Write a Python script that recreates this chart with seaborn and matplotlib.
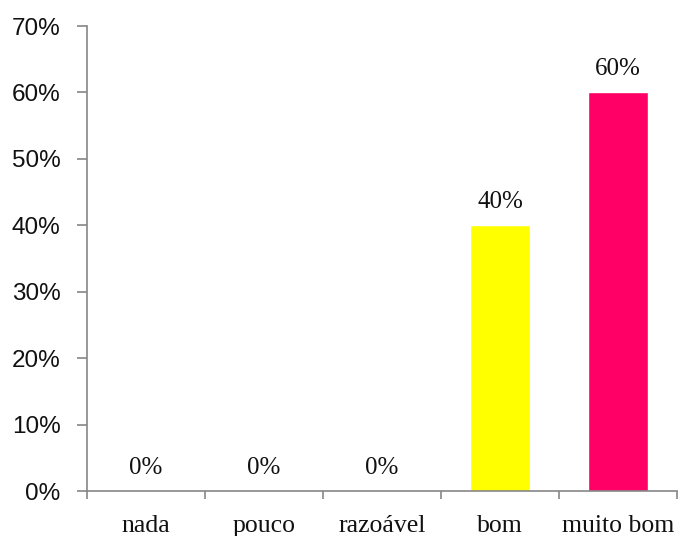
import matplotlib
matplotlib.use("Agg")
import matplotlib.pyplot as plt
from matplotlib.ticker import PercentFormatter, FixedLocator
import seaborn as sns
import pandas as pd

categories = ["nada", "pouco", "razoável", "bom", "muito bom"]
values = [0, 0, 0, 40, 60]
colors = ["#4F81BD", "#C0504D", "#9BBB59", "#FFFF00", "#FF0066"]
y_ticks = [0, 10, 20, 30, 40, 50, 60, 70]

sns.set_style("white")
axis_grey = "#868686"

df = pd.DataFrame({"categoria": categories, "valor": values})

fig = plt.figure(figsize=(6.79, 5.36), dpi=100)
ax = fig.add_axes([87 / 679, 45 / 536, 590 / 679, 465 / 536])

sns.barplot(data=df, x="categoria", y="valor", hue="categoria",
            palette=colors, legend=False, width=0.51, saturation=1,
            ax=ax)

ax.set_ylim(0, 70)
ax.set_xlim(-0.5, len(categories) - 0.5)
ax.yaxis.set_major_locator(FixedLocator(y_ticks))
ax.yaxis.set_major_formatter(PercentFormatter(decimals=0))

for cont in ax.containers:
    ax.bar_label(cont, labels=[f"{v:.0f}%" for v in cont.datavalues],
                 padding=9, fontsize=18, family="Liberation Serif",
                 color="#111111")

ax.set_xlabel("")
ax.set_ylabel("")

for side in ("top", "right"):
    ax.spines[side].set_visible(False)
for side in ("left", "bottom"):
    ax.spines[side].set_color(axis_grey)
    ax.spines[side].set_linewidth(1.2)

# category boundaries carry the tick marks; labels sit at the centres
ax.set_xticks([i - 0.5 for i in range(len(categories) + 1)], minor=True)
ax.tick_params(axis="x", which="major", length=0, pad=17,
               labelsize=18.5)
ax.tick_params(axis="x", which="minor", length=6, width=1.2,
               color=axis_grey, direction="out", bottom=True)
ax.tick_params(axis="y", which="major", length=7, width=1.2,
               color=axis_grey, direction="out", left=True, pad=12,
               labelsize=17.5)

for lbl in ax.get_xticklabels():
    lbl.set_family("Liberation Serif")
    lbl.set_color("#111111")
for lbl in ax.get_yticklabels():
    lbl.set_family("Liberation Sans")
    lbl.set_color("#111111")

fig.savefig("out.png", dpi=100)
